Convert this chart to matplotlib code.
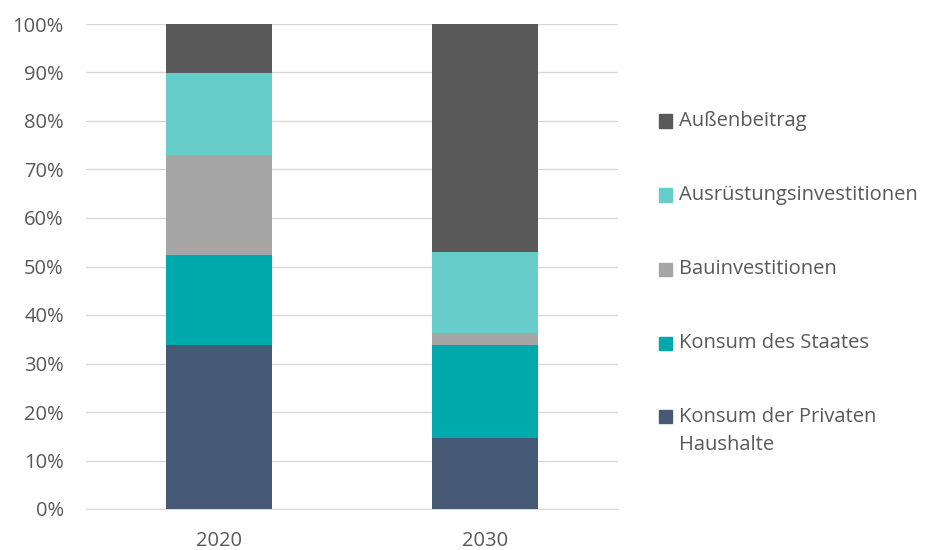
import matplotlib.pyplot as plt
from matplotlib.patches import Rectangle

plt.rcParams['font.family'] = ['Open Sans', 'DejaVu Sans']

years = ['2020', '2030']
series = ['Konsum der Privaten\nHaushalte', 'Konsum des Staates', 'Bauinvestitionen',
          'Ausrüstungsinvestitionen', 'Außenbeitrag']
privat = [33.8, 14.7]
staat = [18.5, 19.1]
bau = [20.6, 2.4]
ausruestung = [16.9, 16.7]
aussen = [10.2, 47.1]
colors = ['#465A75', '#00A9AC', '#A6A6A6', '#66CDCA', '#595959']

values = [privat, staat, bau, ausruestung, aussen]

fig = plt.figure(figsize=(9.28, 5.5), dpi=100)
ax = fig.add_axes([86 / 928, 41 / 550, 532 / 928, 485 / 550])

x = range(len(years))
bottom = [0, 0]
for vals, c in zip(values, colors):
    ax.bar(x, vals, bottom=bottom, width=0.40, color=c, zorder=3)
    bottom = [b + v for b, v in zip(bottom, vals)]

ax.set_xlim(-0.5, 1.5)
ax.set_ylim(0, 100)
ax.set_yticks(range(0, 101, 10))
ax.set_yticklabels([f'{t}%' for t in range(0, 101, 10)])
ax.set_xticks(list(x))
ax.set_xticklabels(years)
ax.grid(axis='y', color='#D9D9D9', linewidth=1, zorder=0)
for s in ['top', 'right', 'left']:
    ax.spines[s].set_visible(False)
ax.spines['bottom'].set_color('#D9D9D9')
ax.tick_params(length=0, labelsize=14.5, colors='#595959')
ax.tick_params(axis='y', pad=16)
ax.tick_params(axis='x', pad=16)

# legend, drawn by hand (top entry first)
rows_y = [121, 195, 269, 343, 416]
for lab, c, yy in zip(series[::-1], colors[::-1], rows_y):
    fy = 1 - yy / 550
    fig.patches.append(Rectangle((659 / 928, fy - 6.5 / 550), 13 / 928, 13 / 550,
                                 transform=fig.transFigure, color=c))
    fig.text(679 / 928, fy, lab, fontsize=14.5, color='#595959', va='center',
             linespacing=1.5)
# the two-line label starts at the square's height
fig.texts[-1].set_verticalalignment('top')
fig.texts[-1].set_position((679 / 928, 1 - 407 / 550))

plt.savefig('out.png', dpi=100)
